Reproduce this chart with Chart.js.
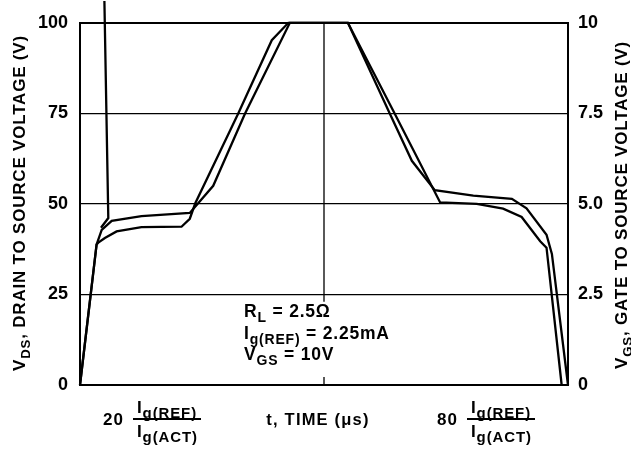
<!DOCTYPE html>
<html>
<head>
<meta charset="utf-8">
<script src="https://cdn.jsdelivr.net/npm/chart.js@4.4.1/dist/chart.umd.min.js"></script>
<style>
  html, body { margin: 0; padding: 0; background: #fff; }
</style>
</head>
<body>
<canvas id="chart" width="631" height="452"></canvas>
<script>
// time in % of the sweep, voltage on the VDS scale (0-100 V)
var timeA = [0, 3.4, 3.75, 5.1, 7.5, 12.6, 20.8, 22.5, 23.6, 32.4, 39.3, 42.7, 54.9, 64.5, 73.8, 81.3, 86.7, 90.5, 94.3, 95.6, 98.7];
var voltA = [0, 38.8, 39.3, 40.6, 42.4, 43.6, 43.7, 45.9, 50.1, 74.9, 95.2, 100, 100, 74.9, 50.4, 50, 48.7, 46.4, 39.7, 37.9, 0];

var timeB = [0, 3.4, 4.45, 6.5, 12.6, 22.5, 27.3, 33.8, 43.0, 54.9, 63.5, 68.0, 72.7, 80.6, 88.5, 91.5, 95.6, 96.7, 100];
var voltB = [0, 38.8, 42.8, 45.3, 46.6, 47.5, 55.0, 74.9, 100, 100, 74.9, 61.9, 53.8, 52.3, 51.4, 48.8, 41.5, 36.2, 0];

// spike that leaves the top of the plot
var timeC = [4.3, 5.8, 5.0];
var voltC = [43.4, 46.1, 106];

var leftTicks = ['0', '25', '50', '75', '100'];
var rightTicks = ['0', '2.5', '5.0', '7.5', '10'];

var FONT = '"Liberation Sans", Arial, Helvetica, sans-serif';

function pts(xs, ys) {
  return xs.map(function (x, i) { return { x: x, y: ys[i] }; });
}

function curve(xs, ys) {
  return {
    data: pts(xs, ys),
    borderColor: '#000',
    borderWidth: 2.3,
    pointRadius: 0,
    fill: false,
    tension: 0,
    clip: false
  };
}

// draws text with subscripts, parts = [[text, isSub], ...]
function rich(ctx, x, y, parts, size, opt) {
  opt = opt || {};
  var subScale = opt.sub || 0.78;
  var drop = opt.drop != null ? opt.drop : 0.32;
  ctx.letterSpacing = (opt.spacing || 0) + 'px';
  var w = 0;
  parts.forEach(function (p) {
    ctx.font = 'bold ' + (p[1] ? size * subScale : size) + 'px ' + FONT;
    w += ctx.measureText(p[0]).width;
  });
  var cx = opt.center ? x - w / 2 : x;
  parts.forEach(function (p) {
    var s = p[1] ? size * subScale : size;
    ctx.font = 'bold ' + s + 'px ' + FONT;
    ctx.fillText(p[0], cx, y + (p[1] ? size * drop : 0));
    cx += ctx.measureText(p[0]).width;
  });
  ctx.letterSpacing = '0px';
  return w;
}

function fraction(ctx, num, x, y, lineW) {
  rich(ctx, x, y, [[num, 0]], 17, { spacing: 1 });
  var fx = x + 30;
  rich(ctx, fx + 4, y - 12, [['I', 0], ['g(REF)', 1]], 17, { sub: 0.88, drop: 0.28, spacing: 0.9 });
  rich(ctx, fx + 4, y + 12, [['I', 0], ['g(ACT)', 1]], 17, { sub: 0.88, drop: 0.28, spacing: 0.9 });
  ctx.fillRect(fx, y - 7, lineW, 2);
}

var decor = {
  id: 'decor',
  beforeDatasetsDraw: function (chart) {
    var ctx = chart.ctx, a = chart.chartArea;
    var x = chart.scales.x.getPixelForValue(50);
    var yStop = chart.scales.y.getPixelForValue(23);
    ctx.save();
    ctx.strokeStyle = '#000';
    ctx.lineWidth = 1.3;
    ctx.beginPath();
    ctx.moveTo(x, a.top);
    ctx.lineTo(x, yStop);
    ctx.moveTo(x, a.bottom - 8);
    ctx.lineTo(x, a.bottom);
    ctx.stroke();
    ctx.restore();
  },
  afterDraw: function (chart) {
    var ctx = chart.ctx;
    ctx.save();
    ctx.fillStyle = '#000';
    ctx.textBaseline = 'alphabetic';

    ctx.save();
    ctx.translate(25, 203);
    ctx.rotate(-Math.PI / 2);
    rich(ctx, 0, 0, [['V', 0], ['DS', 1], [', DRAIN TO SOURCE VOLTAGE (V)', 0]], 17, { center: true, spacing: 0.8 });
    ctx.restore();

    ctx.save();
    ctx.translate(627, 205);
    ctx.rotate(-Math.PI / 2);
    rich(ctx, 0, 0, [['V', 0], ['GS', 1], [', GATE TO SOURCE VOLTAGE (V)', 0]], 17, { center: true, spacing: 0.8 });
    ctx.restore();

    var note = { spacing: 0.8, sub: 0.8, drop: 0.3 };
    rich(ctx, 244, 317, [['R', 0], ['L', 1], [' = 2.5\u03A9', 0]], 17.5, note);
    rich(ctx, 244, 339, [['I', 0], ['g(REF)', 1], [' = 2.25mA', 0]], 17.5, note);
    rich(ctx, 244, 360, [['V', 0], ['GS', 1], [' = 10V', 0]], 17.5, note);

    fraction(ctx, '20', 103, 425, 68);
    fraction(ctx, '80', 437, 425, 68);

    rich(ctx, 318, 425, [['t, TIME (\u03BCs)', 0]], 16.5, { center: true, spacing: 1.2 });
    ctx.restore();
  }
};

new Chart(document.getElementById('chart').getContext('2d'), {
  type: 'line',
  data: {
    datasets: [curve(timeA, voltA), curve(timeB, voltB), curve(timeC, voltC)]
  },
  options: {
    responsive: false,
    animation: false,
    layout: { padding: { top: 16, left: 0, right: 0, bottom: 0 } },
    plugins: { legend: { display: false }, tooltip: { enabled: false } },
    scales: {
      x: {
        type: 'linear',
        min: 0,
        max: 100,
        ticks: { display: false },
        grid: { display: false },
        border: { display: true, color: '#000', width: 2 },
        afterFit: function (s) { s.height = 67; }
      },
      y: {
        position: 'left',
        min: 0,
        max: 100,
        ticks: {
          stepSize: 25,
          padding: 12,
          color: '#000',
          font: { family: FONT, size: 18, weight: 'bold' },
          callback: function (v, i) { return leftTicks[i]; }
        },
        grid: {
          color: '#000',
          lineWidth: function (c) { return c.tick && c.tick.value === 100 ? 2 : 1.2; },
          drawTicks: false
        },
        border: { display: true, color: '#000', width: 2 },
        afterFit: function (s) { s.width = 80; }
      },
      y2: {
        position: 'right',
        min: 0,
        max: 10,
        ticks: {
          stepSize: 2.5,
          padding: 10,
          color: '#000',
          font: { family: FONT, size: 18, weight: 'bold' },
          callback: function (v, i) { return rightTicks[i]; }
        },
        grid: { display: false, drawTicks: false },
        border: { display: true, color: '#000', width: 2 },
        afterFit: function (s) { s.width = 63; }
      }
    }
  },
  plugins: [decor]
});
</script>
</body>
</html>
